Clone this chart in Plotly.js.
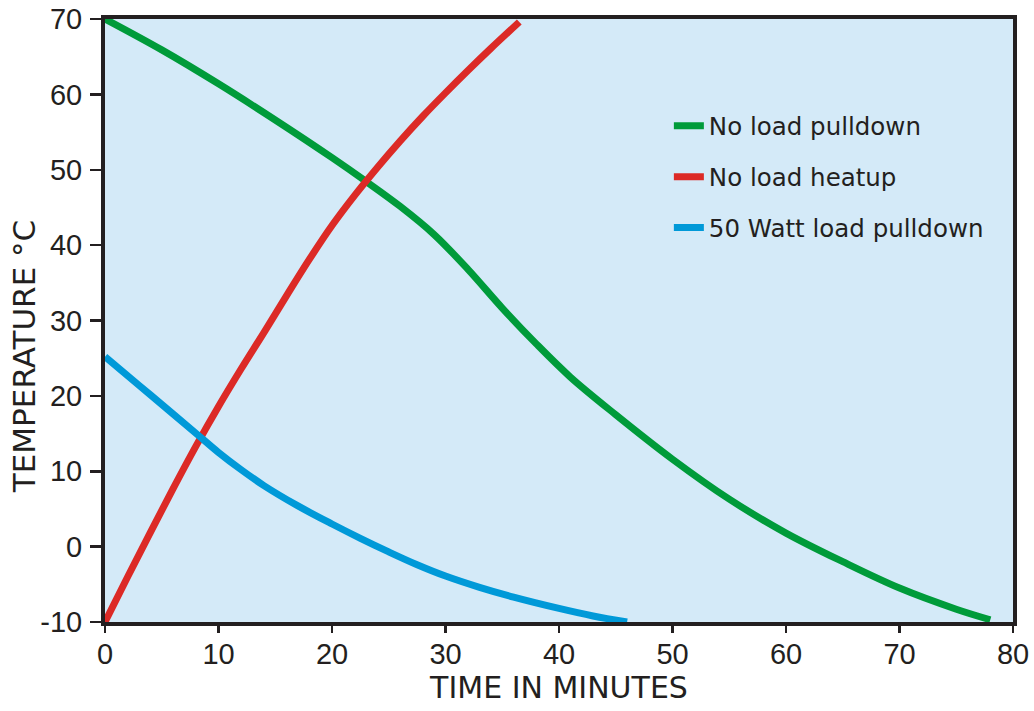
<!DOCTYPE html>
<html>
<head>
<meta charset="utf-8">
<script src="https://cdn.plot.ly/plotly-3.0.1.min.js"></script>
<style>html,body{margin:0;padding:0;background:#fff;}#chart{width:1034px;height:711px;}</style>
</head>
<body>
<div id="chart"></div>
<script>
// Time in minutes and temperature in °C
var pulldownTime = [0, 5, 10, 15, 20, 23, 26, 29, 32, 35, 38, 41, 45, 50, 55, 60, 65, 70, 75, 78];
var pulldownTemp = [70, 65.9, 61.4, 56.6, 51.6, 48.45, 45.15, 41.4, 36.75, 31.65, 26.9, 22.5, 17.5, 11.6, 6.3, 1.8, -2.0, -5.5, -8.3, -9.7];

var heatupTime = [0, 2, 4, 6, 8, 10, 12, 14, 16, 18, 20, 22, 24, 26, 28, 30, 32, 34, 36.5];
var heatupTemp = [-10, -4.0, 1.9, 7.7, 13.3, 18.6, 23.6, 28.4, 33.3, 38.1, 42.6, 46.6, 50.3, 53.8, 57.1, 60.2, 63.2, 66.1, 69.6];

var loadTime = [0, 3, 6, 8.2, 10, 12, 14, 17, 20, 22.5, 25, 27.5, 30, 33, 36, 40, 43, 46];
var loadTemp = [25.2, 21.4, 17.6, 14.8, 12.5, 10.2, 8.1, 5.4, 3.0, 1.1, -0.7, -2.4, -3.9, -5.4, -6.7, -8.2, -9.2, -10];

var seriesNames = ["No load pulldown", "No load heatup", "50 Watt load pulldown"];
var xTicks = [0, 10, 20, 30, 40, 50, 60, 70, 80];
var yTicks = [-10, 0, 10, 20, 30, 40, 50, 60, 70];

var ink = "#231f20";
var traces = [
  {x: pulldownTime, y: pulldownTemp, name: seriesNames[0], legendgroup: "a", mode: "lines",
   line: {color: "#009b3a", width: 7, shape: "spline", smoothing: 1}},
  {x: heatupTime, y: heatupTemp, name: seriesNames[1], legendgroup: "b", mode: "lines",
   line: {color: "#dc2a26", width: 7, shape: "spline", smoothing: 1}},
  {x: loadTime, y: loadTemp, name: seriesNames[2], legendgroup: "c", mode: "lines",
   line: {color: "#0099d8", width: 7, shape: "spline", smoothing: 1}}
];

var layout = {
  width: 1034, height: 711,
  margin: {l: 105, r: 21, t: 19, b: 89, pad: 0},
  paper_bgcolor: "#ffffff",
  plot_bgcolor: "#d4eaf8",
  showlegend: true,
  legend: {
    x: 0.621, y: 0.86, xanchor: "left", yanchor: "top",
    bgcolor: "rgba(0,0,0,0)", borderwidth: 0,
    font: {family: "DejaVu Sans", size: 24.5, color: ink},
    tracegroupgap: 16
  },
  xaxis: {
    range: [0, 80], tickvals: xTicks, ticktext: xTicks.map(String),
    ticks: "outside", ticklen: 7, tickwidth: 2.5, tickcolor: ink,
    showline: true, linewidth: 4, linecolor: ink, mirror: true,
    showgrid: false, zeroline: false, fixedrange: true, ticklabelstandoff: -4,
    tickfont: {family: "Liberation Sans, Arial, sans-serif", size: 29, color: ink},
    title: {text: "TIME IN MINUTES", standoff: 6,
            font: {family: "DejaVu Sans", size: 30, color: ink}}
  },
  xaxis2: {
    overlaying: "x", matches: "x", anchor: "y", side: "bottom",
    range: [0, 80], tickvals: xTicks, ticks: "inside", ticklen: 7, tickwidth: 2.5, tickcolor: ink,
    showticklabels: false, showline: false, showgrid: false, zeroline: false, fixedrange: true
  },
  yaxis: {
    range: [-10, 70], tickvals: yTicks, ticktext: yTicks.map(String),
    ticks: "outside", ticklen: 11, tickwidth: 2.5, tickcolor: ink,
    showline: true, linewidth: 4, linecolor: ink, mirror: true,
    showgrid: false, zeroline: false, fixedrange: true, ticklabelstandoff: 2,
    tickfont: {family: "Liberation Sans, Arial, sans-serif", size: 29, color: ink}
  },
  yaxis2: {
    overlaying: "y", matches: "y", anchor: "x", side: "left",
    range: [-10, 70], tickvals: [0], ticks: "inside", ticklen: 11, tickwidth: 2.5, tickcolor: ink,
    showticklabels: false, showline: false, showgrid: false, zeroline: false, fixedrange: true
  },
  annotations: [{
    text: "TEMPERATURE °C", textangle: -90, showarrow: false,
    xref: "paper", yref: "paper", x: -0.089, y: 0.4395, xanchor: "center", yanchor: "middle",
    font: {family: "DejaVu Sans", size: 31, color: ink}
  }]
};

Plotly.newPlot("chart", traces, layout, {displayModeBar: false, staticPlot: true});
</script>
</body>
</html>
